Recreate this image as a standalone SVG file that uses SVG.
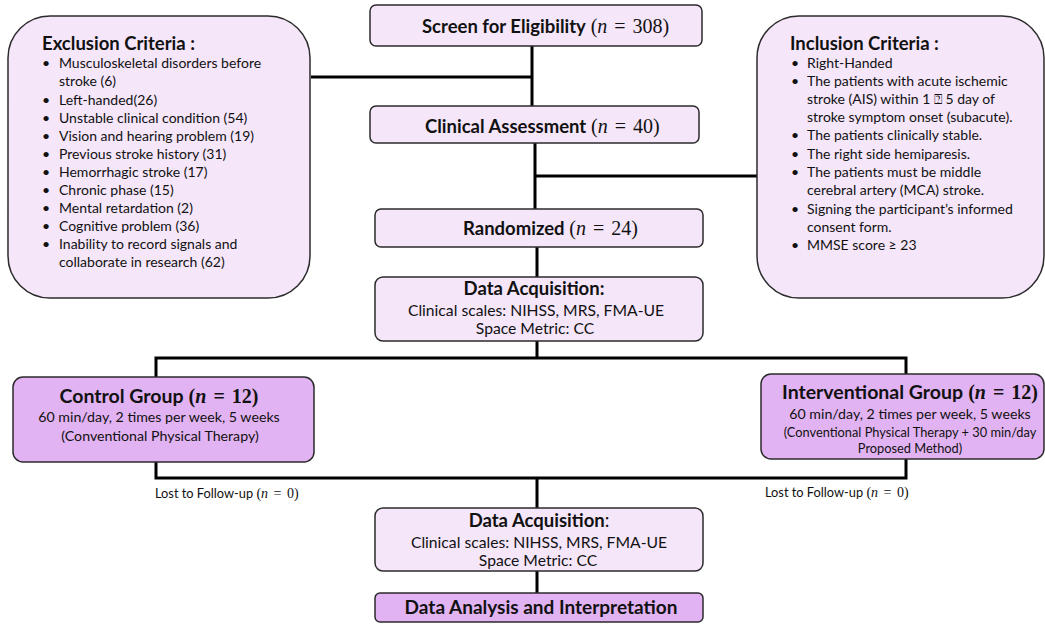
<svg xmlns="http://www.w3.org/2000/svg" width="1045" height="631" viewBox="0 0 1045 631">
<style>
.light{fill:#F5E6FA;stroke:#2b2b2b;stroke-width:1.5}
.dark{fill:#E2B3F2;stroke:#2b2b2b;stroke-width:1.5}
.conn{fill:none;stroke:#000;stroke-width:3}
text{font-family:Lato,"Liberation Sans",sans-serif;fill:#111}
.b{font-weight:bold}
.m{font-family:"Liberation Serif","DejaVu Serif",serif;word-spacing:2px}
.i{font-style:italic}
.t14{font-size:14px}
.mid{text-anchor:middle}
</style>
<g id="connectors">
<path class="conn" d="M532 46V106M311 77H532"/>
<path class="conn" d="M535 143V209M535 176H758"/>
<path class="conn" d="M537 247V277M537 341V358"/>
<path class="conn" d="M156 377V358H906V374"/>
<path class="conn" d="M156 462V478H906V459"/>
<path class="conn" d="M537 478V508M537 571V593"/>
</g>
<g id="exclusion">
<rect class="light" x="8" y="16" width="302" height="282" rx="42"/>
<text class="b" x="42" y="50" font-size="18.5">Exclusion Criteria :</text>
<g class="t14">
<text x="42" y="68">•</text><text x="59" y="68">Musculoskeletal disorders before</text>
<text x="59" y="86">stroke (6)</text>
<text x="42" y="105">•</text><text x="59" y="105">Left-handed(26)</text>
<text x="42" y="123">•</text><text x="59" y="123">Unstable clinical condition (54)</text>
<text x="42" y="141">•</text><text x="59" y="141">Vision and hearing problem (19)</text>
<text x="42" y="159">•</text><text x="59" y="159">Previous stroke history (31)</text>
<text x="42" y="177">•</text><text x="59" y="177">Hemorrhagic stroke (17)</text>
<text x="42" y="195">•</text><text x="59" y="195">Chronic phase (15)</text>
<text x="42" y="213">•</text><text x="59" y="213">Mental retardation (2)</text>
<text x="42" y="231">•</text><text x="59" y="231">Cognitive problem (36)</text>
<text x="42" y="249">•</text><text x="59" y="249">Inability to record signals and</text>
<text x="59" y="267">collaborate in research (62)</text>
</g>
</g>
<g id="inclusion">
<rect class="light" x="757" y="16" width="287" height="282" rx="42"/>
<text class="b" x="790" y="50" font-size="18.5">Inclusion Criteria :</text>
<g class="t14">
<text x="791" y="68">•</text><text x="807" y="68">Right-Handed</text>
<text x="791" y="86">•</text><text x="807" y="86">The patients with acute ischemic</text>
<text x="807" y="104">stroke (AIS) within 1 ⍰ 5 day of</text>
<text x="807" y="122">stroke symptom onset (subacute).</text>
<text x="791" y="140">•</text><text x="807" y="140">The patients clinically stable.</text>
<text x="791" y="159">•</text><text x="807" y="159">The right side hemiparesis.</text>
<text x="791" y="177">•</text><text x="807" y="177">The patients must be middle</text>
<text x="807" y="195">cerebral artery (MCA) stroke.</text>
<text x="791" y="214">•</text><text x="807" y="214">Signing the participant’s informed</text>
<text x="807" y="232">consent form.</text>
<text x="791" y="250">•</text><text x="807" y="250">MMSE score ≥ 23</text>
</g>
</g>
<g id="screen">
<rect class="light" x="370" y="5" width="332" height="41" rx="6"/>
<text x="422" y="33" font-size="18.5"><tspan class="b">Screen for Eligibility</tspan> <tspan class="m" font-size="20">(<tspan class="i">n</tspan> = 308)</tspan></text>
</g>
<g id="clinical">
<rect class="light" x="370" y="106" width="329" height="37" rx="6"/>
<text x="425" y="133" font-size="18.5"><tspan class="b">Clinical Assessment</tspan> <tspan class="m" font-size="20">(<tspan class="i">n</tspan> = 40)</tspan></text>
</g>
<g id="randomized">
<rect class="light" x="375" y="209" width="328" height="38" rx="6"/>
<text x="463" y="235" font-size="18.5"><tspan class="b">Randomized</tspan> <tspan class="m" font-size="20">(<tspan class="i">n</tspan> = 24)</tspan></text>
</g>
<g id="acq1">
<rect class="light" x="375" y="277" width="328" height="64" rx="8"/>
<text class="b mid" x="534" y="295" font-size="18.5">Data Acquisition:</text>
<text class="mid" x="536" y="316" font-size="15.7">Clinical scales: NIHSS, MRS, FMA-UE</text>
<text class="mid" x="535" y="334" font-size="15.7">Space Metric: CC</text>
</g>
<g id="control">
<rect class="dark" x="13" y="377" width="301" height="85" rx="10"/>
<text class="mid" x="159" y="403" font-size="19.5"><tspan class="b">Control Group</tspan> <tspan class="m b" font-size="20">(<tspan class="i">n</tspan> = 12)</tspan></text>
<text class="mid" x="159" y="422" font-size="14.2">60 min/day, 2 times per week, 5 weeks</text>
<text class="mid" x="160" y="441" font-size="14.2">(Conventional Physical Therapy)</text>
</g>
<g id="interventional">
<rect class="dark" x="761" y="374" width="283" height="85" rx="10"/>
<text class="mid" x="910" y="399" font-size="19.5"><tspan class="b">Interventional Group</tspan> <tspan class="m b" font-size="20">(<tspan class="i">n</tspan> = 12)</tspan></text>
<text class="mid" x="910" y="419" font-size="14.2">60 min/day, 2 times per week, 5 weeks</text>
<text class="mid" x="910" y="437" font-size="12.8">(Conventional Physical Therapy + 30 min/day</text>
<text class="mid" x="910" y="453" font-size="12.8">Proposed Method)</text>
</g>
<g id="lost-left">
<text x="155" y="498" font-size="12.8">Lost to Follow-up <tspan class="m" font-size="14">(<tspan class="i">n</tspan> = 0)</tspan></text>
</g>
<g id="lost-right">
<text x="765" y="497" font-size="12.8">Lost to Follow-up <tspan class="m" font-size="14">(<tspan class="i">n</tspan> = 0)</tspan></text>
</g>
<g id="acq2">
<rect class="light" x="375" y="508" width="328" height="63" rx="8"/>
<text class="mid" x="539" y="527" font-size="18.5"><tspan class="b">Data Acquisition</tspan>:</text>
<text class="mid" x="539" y="548" font-size="15.7">Clinical scales: NIHSS, MRS, FMA-UE</text>
<text class="mid" x="538" y="566" font-size="15.7">Space Metric: CC</text>
</g>
<g id="analysis">
<rect class="dark" x="375" y="593" width="328" height="29" rx="5"/>
<text class="b mid" x="541" y="614" font-size="19">Data Analysis and Interpretation</text>
</g>
</svg>
